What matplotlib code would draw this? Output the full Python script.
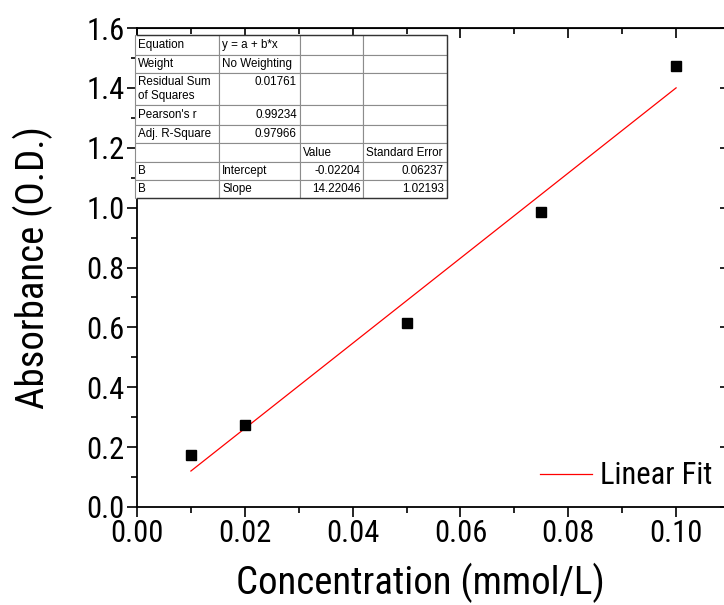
import matplotlib
matplotlib.use("Agg")
import matplotlib.pyplot as plt
import numpy as np
from matplotlib.ticker import MultipleLocator, FormatStrFormatter

# ---- data ----
conc = [0.01, 0.02, 0.05, 0.075, 0.10]
absorb = [0.174, 0.274, 0.614, 0.987, 1.474]
fit_intercept = -0.02204
fit_slope = 14.22046
fit_x = [0.01, 0.10]

table_rows = [
    ["Equation", "y = a + b*x", "", ""],
    ["Weight", "No Weighting", "", ""],
    ["Residual Sum\nof Squares", "0.01761\n ", "", ""],
    ["Pearson's r", "0.99234", "", ""],
    ["Adj. R-Square", "0.97966", "", ""],
    ["", "", "Value", "Standard Error"],
    ["B", "Intercept", "-0.02204", "0.06237"],
    ["B", "Slope", "14.22046", "1.02193"],
]
x_label = "Concentration (mmol/L)"
y_label = "Absorbance (O.D.)"
legend_label = "Linear Fit"

FONT = ["Roboto Condensed", "DejaVu Sans"]
plt.rcParams["font.family"] = FONT

W, H = 724, 605
fig = plt.figure(figsize=(W / 100, H / 100), dpi=100)
ax_l, ax_r, ax_t, ax_b = 137, 730, 28, 507
ax = fig.add_axes([ax_l / W, 1 - ax_b / H, (ax_r - ax_l) / W, (ax_b - ax_t) / H])

ax.plot(conc, absorb, linestyle="none", marker="s", markersize=7.5,
        color="black", zorder=3)
fx = np.array(fit_x)
ax.plot(fx, fit_intercept + fit_slope * fx, color="red", linewidth=0.9,
        label=legend_label, zorder=2)

ax.set_xlim(0, 0.11)
ax.set_ylim(0, 1.6)
ax.xaxis.set_major_locator(MultipleLocator(0.02))
ax.xaxis.set_minor_locator(MultipleLocator(0.01))
ax.yaxis.set_major_locator(MultipleLocator(0.2))
ax.yaxis.set_minor_locator(MultipleLocator(0.1))
ax.xaxis.set_major_formatter(FormatStrFormatter("%.2f"))
ax.yaxis.set_major_formatter(FormatStrFormatter("%.1f"))

for s in ax.spines.values():
    s.set_linewidth(1.3)

ax.tick_params(which="both", direction="out", top=False, right=False,
               width=1.2, labelsize=22)
ax.tick_params(which="major", length=7)
ax.tick_params(which="minor", length=4)
ax.tick_params(axis="x", pad=2)
ax.tick_params(axis="y", pad=2)

# mirrored inward ticks on top and right
axt = ax.secondary_xaxis("top")
axt.xaxis.set_major_locator(MultipleLocator(0.02))
axt.xaxis.set_minor_locator(MultipleLocator(0.01))
axt.tick_params(which="both", direction="in", width=1.2, labeltop=False)
axt.tick_params(which="major", length=7)
axt.tick_params(which="minor", length=4)
axr = ax.secondary_yaxis("right")
axr.yaxis.set_major_locator(MultipleLocator(0.2))
axr.yaxis.set_minor_locator(MultipleLocator(0.1))
axr.tick_params(which="both", direction="in", width=1.2, labelright=False)
axr.tick_params(which="major", length=7)
axr.tick_params(which="minor", length=4)

fig.text(420 / W, 1 - 583 / H, x_label, fontsize=28, ha="center", va="center")
fig.text(33 / W, 1 - 268 / H, y_label, fontsize=28, ha="center", va="center",
         rotation=90)

leg = ax.legend(loc="center right", bbox_to_anchor=((712 - ax_l) / (ax_r - ax_l), (ax_b - 476) / (ax_b - ax_t)),
                frameon=False, fontsize=22, handlelength=1.7, handletextpad=0.25,
                borderpad=0, borderaxespad=0)

# ---- statistics table ----
col_w = [84, 81, 63, 84]
row_h = [20, 18, 32, 20, 18, 19, 18, 18]
tx0, ty0 = 135, 35
tw, th = sum(col_w), sum(row_h)
bbox = [(tx0 - ax_l) / (ax_r - ax_l), (ax_b - (ty0 + th)) / (ax_b - ax_t),
        tw / (ax_r - ax_l), th / (ax_b - ax_t)]
tab = ax.table(cellText=table_rows, bbox=bbox, cellLoc="left", zorder=5)
tab.auto_set_font_size(False)
tab.set_fontsize(8.4)
right_cells = {(2, 1), (3, 1), (4, 1), (6, 2), (6, 3), (7, 2), (7, 3)}
for (r, c), cell in tab.get_celld().items():
    cell.set_width(col_w[c])
    cell.set_height(row_h[r])
    cell.set_edgecolor("#8c8c8c")
    cell.set_linewidth(0.8)
    cell.set_facecolor("white")
    cell.PAD = 0.04
    t = cell.get_text()
    t.set_family(["Liberation Sans", "DejaVu Sans"])
    t.set_fontsize(8.4)
    if (r, c) in right_cells:
        cell._loc = "right"
        t.set_ha("right")
    if r == 2:
        t.set_linespacing(1.25)

# darker outer border of the table
ax.add_patch(plt.Rectangle((bbox[0], bbox[1]), bbox[2], bbox[3], transform=ax.transAxes,
                           fill=False, edgecolor="#333333", linewidth=1.0, zorder=6))

fig.savefig("out.png", dpi=100)
